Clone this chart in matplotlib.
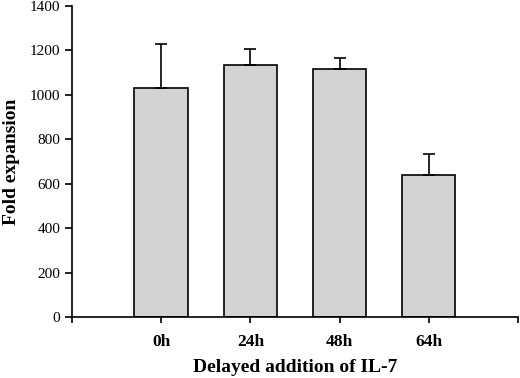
import matplotlib
matplotlib.use("Agg")
import matplotlib.pyplot as plt

categories = ["0h", "24h", "48h", "64h"]
values = [1032, 1135, 1118, 638]
errors = [196, 72, 50, 95]
yticks = [0, 200, 400, 600, 800, 1000, 1200, 1400]

plt.rcParams['font.family'] = ['Liberation Serif', 'DejaVu Serif']

fig = plt.figure(figsize=(5.2, 3.78), dpi=100)
ax = fig.add_axes([0.1385, 0.1614, 0.8575, 0.8226])

pos = list(range(1, len(categories) + 1))
ax.bar(pos, values, width=0.6, color='#d3d3d3', edgecolor='black', linewidth=1.2, zorder=2)
ax.errorbar(pos, values, yerr=[[0]*len(errors), errors], fmt='none', ecolor='black',
            elinewidth=1.2, capsize=4, capthick=1.2, zorder=3)

ax.set_xlim(0, len(categories) + 1)
ax.set_ylim(0, 1400)
ax.set_yticks(yticks)
ax.set_yticklabels([str(v) for v in yticks], fontsize=11)
ax.set_xticks([0] + pos + [len(categories) + 1])
ax.set_xticklabels([''] + categories + [''], fontsize=12.5, fontweight='bold')
ax.tick_params(axis='both', direction='out', length=5, width=1.2, colors='black')
ax.tick_params(axis='x', length=4, pad=8)
for s in ['top', 'right']:
    ax.spines[s].set_visible(False)
for s in ['left', 'bottom']:
    ax.spines[s].set_linewidth(1.2)

ax.set_xlabel('Delayed addition of IL-7', fontsize=14, fontweight='bold', labelpad=7)
ax.set_ylabel('Fold expansion', fontsize=14, fontweight='bold', labelpad=7)

fig.savefig('out.png', dpi=100)
